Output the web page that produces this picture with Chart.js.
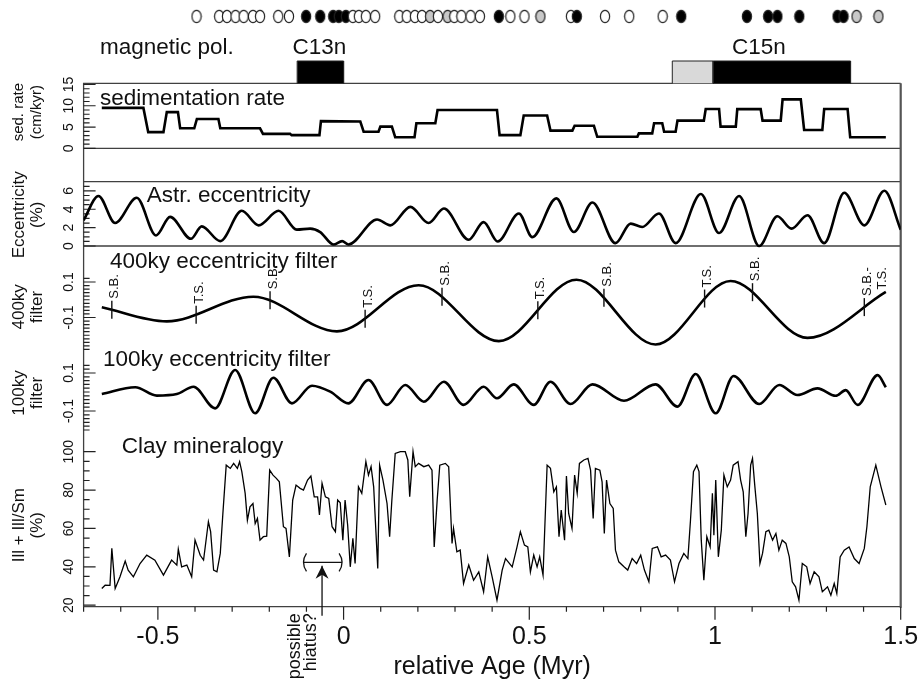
<!DOCTYPE html>
<html><head><meta charset="utf-8">
<script src="https://cdn.jsdelivr.net/npm/chart.js@4.4.1/dist/chart.umd.min.js"></script>
<style>html,body{margin:0;padding:0;background:#fff;}</style>
</head><body>
<canvas id="c" width="918" height="682" style="width:918px;height:682px;display:block"></canvas>
<script>
// ---------------- DATA ----------------
const xTicks = [-0.5, 0, 0.5, 1, 1.5];
const sedTicks = [0, 5, 10, 15];
const eccTicks = [0, 2, 4, 6];
const f400Ticks = [-0.1, 0.1];
const f100Ticks = [-0.1, 0.1];
const clayTicks = [20, 40, 60, 80, 100];

// paleomagnetic samples: o = open (reversed), b = black (normal), g = grey (uncertain)
const polAge = [-0.396,-0.335,-0.314,-0.291,-0.269,-0.244,-0.225,-0.176,-0.147,-0.101,-0.063,-0.028,-0.013,0.006,0.025,0.041,0.060,0.085,0.150,0.170,0.192,0.211,0.233,0.254,0.280,0.298,0.317,0.342,0.367,0.418,0.449,0.487,0.530,0.612,0.628,0.704,0.769,0.859,0.909,1.086,1.143,1.168,1.227,1.330,1.346,1.381,1.440];
const polType = ['o','o','o','o','o','o','o','o','o','b','b','b','b','b','o','o','o','o','o','o','o','o','g','o','g','o','o','o','o','b','o','o','g','o','b','o','o','o','b','b','b','b','b','b','b','g','g'];

// magnetic chrons
const chronStart = [-0.125, 0.885, 0.995];
const chronEnd   = [0.0, 0.995, 1.365];
const chronKind  = ['normal', 'uncertain', 'normal'];
const chronNames = ['C13n', 'C15n'];
const chronNameAge = [-0.065, 1.118];

// sedimentation rate (cm/kyr)
const sedAge  = [-0.651,-0.539,-0.526,-0.485,-0.476,-0.446,-0.440,-0.402,-0.395,-0.337,-0.332,-0.225,-0.217,-0.144,-0.140,-0.065,-0.061,0.045,0.054,0.094,0.099,0.130,0.139,0.191,0.196,0.247,0.253,0.413,0.420,0.476,0.485,0.548,0.557,0.616,0.622,0.674,0.683,0.791,0.795,0.831,0.836,0.858,0.863,0.894,0.899,0.970,0.975,1.011,1.015,1.056,1.060,1.123,1.128,1.177,1.182,1.231,1.240,1.289,1.294,1.357,1.364,1.460];
const sedRate = [9.5,9.5,3.8,3.8,8.5,8.5,4.7,4.7,6.9,6.9,4.7,4.7,3.4,3.4,3.1,3.1,6.4,6.3,3.9,3.9,5.1,5.1,2.6,2.6,5.9,5.9,9.0,9.0,3.1,3.1,7.7,7.7,4.15,4.15,5.3,5.3,2.7,2.7,3.5,3.5,5.9,5.9,3.9,3.9,6.5,6.5,9.25,9.25,5.1,5.1,9.2,9.2,6.5,6.5,11.5,11.5,4.3,4.3,9.25,9.25,2.6,2.6];

// astronomical eccentricity (%)
const eccAge = [-0.700,-0.660,-0.615,-0.557,-0.505,-0.467,-0.411,-0.382,-0.332,-0.274,-0.229,-0.175,-0.126,-0.090,-0.063,-0.027,-0.004,0.013,0.090,0.126,0.180,0.229,0.270,0.337,0.377,0.415,0.472,0.508,0.573,0.620,0.670,0.732,0.773,0.804,0.849,0.894,0.962,1.011,1.065,1.119,1.168,1.206,1.249,1.294,1.348,1.402,1.456,1.500];
const eccVal = [2.8,5.44,2.5,5.25,1.15,3.17,0.79,2.14,0.53,3.83,2.25,3.83,1.78,1.89,1.52,0.16,0.53,0.16,2.88,2.25,4.26,2.5,4.08,0.68,2.6,0.49,3.54,0.97,5.18,1.52,4.74,0.31,2.44,2.07,3.54,0.31,5.66,1.41,5.44,0.0,3.24,1.89,3.35,0.31,5.8,2.25,6.02,1.78];

// 400 ky eccentricity filter
const f400Age = [-0.651,-0.476,-0.243,-0.018,0.202,0.418,0.627,0.840,1.042,1.249,1.460];
const f400Val = [-0.042,-0.122,0.017,-0.178,0.082,-0.233,0.113,-0.252,0.106,-0.215,0.044];

// sequence markers on the 400 ky filter
const markerAge = [-0.624,-0.397,-0.198,0.058,0.265,0.523,0.701,0.972,1.101,1.402];
const markerLabel = ['S.B.','T.S.','S.B.','T.S.','S.B.','T.S.','S.B.','T.S.','S.B.','S.B.-\nT.S.'];

// 100 ky eccentricity filter
const f100Age = [-0.651,-0.561,-0.503,-0.449,-0.404,-0.346,-0.292,-0.238,-0.189,-0.139,-0.085,-0.036,0.013,0.067,0.117,0.166,0.216,0.270,0.323,0.377,0.413,0.458,0.512,0.557,0.611,0.670,0.755,0.840,0.899,0.948,1.002,1.050,1.119,1.173,1.222,1.276,1.325,1.352,1.384,1.438,1.460];
const f100Val = [-0.011,0.025,-0.019,-0.011,0.028,-0.086,0.116,-0.112,0.075,-0.06,0.033,0.002,-0.06,0.063,-0.068,0.037,-0.051,0.054,-0.068,0.028,-0.033,0.04,-0.068,0.054,-0.063,0.04,-0.046,0.04,-0.077,0.095,-0.112,0.084,-0.063,0.037,-0.016,0.019,-0.02,0.01,-0.068,0.089,0.025];

// clay mineralogy: Ill + Ill/Sm (%)
const clayAge = [-0.651,-0.642,-0.629,-0.624,-0.615,-0.602,-0.588,-0.580,-0.566,-0.548,-0.530,-0.508,-0.485,-0.463,-0.449,-0.445,-0.436,-0.422,-0.409,-0.400,-0.386,-0.377,-0.364,-0.358,-0.350,-0.341,-0.332,-0.325,-0.316,-0.305,-0.296,-0.286,-0.280,-0.274,-0.265,-0.259,-0.252,-0.244,-0.238,-0.232,-0.225,-0.216,-0.207,-0.199,-0.190,-0.181,-0.173,-0.162,-0.155,-0.146,-0.137,-0.128,-0.117,-0.108,-0.097,-0.088,-0.079,-0.070,-0.065,-0.058,-0.049,-0.040,-0.031,-0.022,-0.016,-0.009,-0.002,0.004,0.011,0.018,0.025,0.031,0.040,0.049,0.060,0.067,0.074,0.081,0.092,0.097,0.106,0.117,0.124,0.130,0.139,0.153,0.166,0.173,0.178,0.187,0.193,0.202,0.216,0.229,0.238,0.244,0.252,0.259,0.274,0.283,0.292,0.296,0.305,0.314,0.323,0.337,0.350,0.364,0.377,0.388,0.400,0.413,0.427,0.436,0.454,0.467,0.476,0.487,0.496,0.503,0.512,0.521,0.528,0.537,0.548,0.557,0.566,0.573,0.580,0.586,0.595,0.600,0.606,0.615,0.622,0.629,0.635,0.647,0.658,0.665,0.672,0.678,0.690,0.696,0.702,0.708,0.717,0.726,0.732,0.741,0.755,0.765,0.777,0.789,0.800,0.810,0.822,0.831,0.845,0.855,0.867,0.880,0.891,0.903,0.916,0.927,0.934,0.942,0.951,0.957,0.963,0.970,0.978,0.987,0.993,0.997,1.002,1.009,1.017,1.024,1.033,1.042,1.049,1.062,1.069,1.076,1.083,1.089,1.096,1.101,1.107,1.114,1.121,1.128,1.137,1.145,1.155,1.164,1.172,1.181,1.191,1.200,1.208,1.217,1.226,1.235,1.247,1.256,1.267,1.280,1.289,1.303,1.312,1.321,1.328,1.337,1.348,1.361,1.375,1.388,1.402,1.409,1.418,1.433,1.447,1.460];
const clayVal = [28.7,30.4,30.3,49.6,28.7,34.8,43,38.3,34.8,41.7,46.1,43.5,35.7,43.5,40.9,49.2,40,40.9,34.8,53.9,46,43.5,63.5,58.3,38.3,37.4,47,67.8,93,91.3,93.9,91.3,94.8,89.6,78.3,64.3,71.3,73,62.6,65.2,53.9,55.7,56,90.4,87.8,86.1,84.3,60.9,60,45.2,74.8,82.6,80.9,80,85.2,87.3,76.5,76.5,67,83.5,76.5,75.7,60.9,58.3,74.8,73.4,53.9,74.8,61.7,40,54.8,41.7,81.7,78.3,94.8,87.8,92.2,81.7,39.1,93,85.2,73,55.7,74.8,99.1,100,100,95.7,76.5,100,92.2,93.9,92.2,93,90.4,50.4,74.8,93,93.9,92.2,52.2,60,47.8,48.7,31.3,40.9,33,37.4,27,45.2,34.8,22.6,38.3,44.3,40,50.4,58.3,51.3,50.4,37.4,46.1,40,45.2,35.7,93,91.3,79.1,81.7,55.7,69.6,53.9,87.3,67.8,60,87.8,78.3,93.9,95.7,96.5,90.4,65.2,91.3,90.4,84.3,57.4,85.2,73,70.4,48.7,42.6,40,38.3,44.3,41.7,46.1,38.3,32.2,49.6,50.4,45.2,46.1,43.5,32.2,41.7,47,44.3,64.3,89.6,93,89.6,53.9,33,55.7,50.4,78.3,56.5,85.2,45.2,59.1,87.8,81.7,85.2,93,94.8,85.2,79.1,55.7,67.8,93,96.5,82.6,67.8,41.7,47,58.3,59.1,53.9,57.4,48.7,53.9,52.2,45.2,32.2,29.6,22.6,41.7,40,31.3,37.4,34.8,27,29.6,25.2,31.3,26.1,45.2,48.7,50.4,44.3,41.7,49.6,60.9,81.7,93,81.7,72.2];

// possible hiatus annotation
const hiatusRange = [-0.108, -0.004];
const hiatusArrowAge = -0.058;

// ---------------- LAYOUT / STYLE ----------------
const W = 918, H = 682;
const PLOT_BOTTOM = 606.7;
const FONT = '"Liberation Sans", Arial, Helvetica, sans-serif';
const INK = '#111';
const FRAME = '#404040';

function band(v0, p0, v1, p1) {
  const s = (p0 - p1) / (v1 - v0);
  const min = v0 - (PLOT_BOTTOM - p0) / s;
  return { min: min, max: min + PLOT_BOTTOM / s };
}
const R_TOP  = band(0, 83.3, 1, 61);
const R_SED  = band(0, 148.3, 15, 84.5);
const R_ECC  = band(0, 246, 7, 181.7);
const R_400  = band(-0.1, 317.5, 0.1, 282);
const R_100  = band(-0.1, 411, 0.1, 373);
const R_CLAY = band(20, 605.2, 100, 451.7);

function hiddenY(r) {
  return { type: 'linear', display: false, min: r.min, max: r.max, bounds: 'data', offset: false };
}
const pts = (xs, ys) => xs.map((x, i) => ({ x: x, y: ys[i] }));

function ellipseImg(fill) {
  const c = document.createElement('canvas');
  c.width = 12; c.height = 15;
  const g = c.getContext('2d');
  g.beginPath();
  g.ellipse(6, 7.5, 4.6, 6.1, 0, 0, Math.PI * 2);
  g.fillStyle = fill; g.fill();
  g.lineWidth = 1.2; g.strokeStyle = '#222'; g.stroke();
  return c;
}
const polImgs = { o: ellipseImg('#ffffff'), b: ellipseImg('#000000'), g: ellipseImg('#c8c8c8') };
const chronColor = { normal: '#000000', uncertain: '#d9d9d9' };

function vText(ctx, txt, x, y, align) {
  ctx.save();
  ctx.translate(x, y);
  ctx.rotate(-Math.PI / 2);
  ctx.textAlign = align;
  ctx.textBaseline = 'middle';
  ctx.fillText(txt, 0, 0);
  ctx.restore();
}

const yPanels = [
  { id: 'ySed',  from: 0,     to: 15,   step: 1,    major: sedTicks },
  { id: 'yEcc',  from: 0,     to: 6.5,  step: 0.5,  major: eccTicks },
  { id: 'y400',  from: -0.28, to: 0.12, step: 0.02, major: f400Ticks },
  { id: 'y100',  from: -0.2,  to: 0.14, step: 0.02, major: f100Ticks },
  { id: 'yClay', from: 20,    to: 100,  step: 5,    major: clayTicks }
];
const yTitles = [
  { id: 'ySed',  v: 8.5,   lines: ['sed. rate', '(cm/kyr)'], size: 15 },
  { id: 'yEcc',  v: 3.4,   lines: ['Eccentricity', '(%)'], size: 17 },
  { id: 'y400',  v: -0.04, lines: ['400ky', 'filter'], size: 17 },
  { id: 'y100',  v: -0.005, lines: ['100ky', 'filter'], size: 17 },
  { id: 'yClay', v: 61.7,  lines: ['Ill + Ill/Sm', '(%)'], size: 17 }
];
const panelTitles = [
  { id: 'ySed',  age: -0.656, v: 10.2,  text: 'sedimentation rate' },
  { id: 'yEcc',  age: -0.530, v: 4.74,  text: 'Astr. eccentricity' },
  { id: 'y400',  age: -0.629, v: 0.18,  text: '400ky eccentricity filter' },
  { id: 'y100',  age: -0.648, v: 0.137, text: '100ky eccentricity filter' },
  { id: 'yClay', age: -0.597, v: 99.4,  text: 'Clay mineralogy' }
];

const annot = {
  id: 'annot',
  beforeDatasetsDraw(chart) {
    const ctx = chart.ctx, X = chart.scales.x, S = chart.scales;
    const L = X.left, R = X.right, T = S.yTop.getPixelForValue(0), B = chart.chartArea.bottom;
    ctx.save();
    ctx.strokeStyle = FRAME; ctx.lineWidth = 1.3;
    ctx.beginPath();
    ctx.moveTo(R, T); ctx.lineTo(L, T); ctx.lineTo(L, B); ctx.lineTo(R, B);
    [S.ySed.getPixelForValue(0), S.yEcc.getPixelForValue(7), S.yEcc.getPixelForValue(0)].forEach(y => {
      ctx.moveTo(L, y); ctx.lineTo(R, y);
    });
    ctx.stroke();
    ctx.lineWidth = 2.2; ctx.strokeStyle = '#555';
    ctx.beginPath(); ctx.moveTo(R, T); ctx.lineTo(R, B + 1); ctx.stroke();
    // x ticks (outward)
    ctx.strokeStyle = '#222'; ctx.lineWidth = 1.2;
    ctx.beginPath();
    for (let i = -7; i <= 15; i++) {
      const x = X.getPixelForValue(i / 10);
      const len = (i % 5 === 0) ? 13 : 5;
      ctx.moveTo(x, B); ctx.lineTo(x, B + len);
    }
    ctx.stroke();
    // y ticks (inward) and rotated labels
    ctx.fillStyle = INK;
    ctx.font = '14px ' + FONT;
    yPanels.forEach(p => {
      const sc = S[p.id];
      ctx.beginPath();
      const n = Math.round((p.to - p.from) / p.step);
      for (let k = 0; k <= n; k++) {
        const v = p.from + k * p.step;
        const y = sc.getPixelForValue(v);
        const isMajor = p.major.some(m => Math.abs(m - v) < p.step / 10);
        ctx.moveTo(L, y); ctx.lineTo(L + (isMajor ? 12 : 6), y);
      }
      ctx.stroke();
      p.major.forEach(m => vText(ctx, String(m), 69, sc.getPixelForValue(m), 'center'));
    });
    ctx.restore();
  },
  afterDatasetsDraw(chart) {
    const ctx = chart.ctx, X = chart.scales.x, S = chart.scales;
    ctx.save();
    ctx.fillStyle = INK; ctx.strokeStyle = INK;
    // axis titles (rotated, two lines)
    yTitles.forEach(t => {
      ctx.font = t.size + 'px ' + FONT;
      const y = S[t.id].getPixelForValue(t.v);
      vText(ctx, t.lines[0], 19, y, 'center');
      vText(ctx, t.lines[1], 37, y, 'center');
    });
    // panel titles
    ctx.font = '22.5px ' + FONT;
    ctx.textAlign = 'left'; ctx.textBaseline = 'alphabetic';
    panelTitles.forEach(t => ctx.fillText(t.text, X.getPixelForValue(t.age), S[t.id].getPixelForValue(t.v)));
    // magnetic polarity labels
    const yLab = S.yTop.getPixelForValue(1.31);
    ctx.fillText('magnetic pol.', X.getPixelForValue(-0.656), yLab);
    ctx.textAlign = 'center';
    chronNames.forEach((n, i) => ctx.fillText(n, X.getPixelForValue(chronNameAge[i]), yLab));
    // S.B. / T.S. markers on the 400ky filter
    const meta = chart.getDatasetMeta(2);
    ctx.lineWidth = 1.4;
    ctx.font = '13px ' + FONT;
    markerAge.forEach((a, i) => {
      const x = X.getPixelForValue(a);
      let y;
      const ip = meta.dataset && meta.dataset.interpolate ? meta.dataset.interpolate({ x: x }, 'x') : null;
      if (ip && !Array.isArray(ip)) y = ip.y;
      else {
        let j = 0; while (j < f400Age.length - 2 && f400Age[j + 1] < a) j++;
        const t = (a - f400Age[j]) / (f400Age[j + 1] - f400Age[j]);
        y = S.y400.getPixelForValue(f400Val[j] + t * (f400Val[j + 1] - f400Val[j]));
      }
      const half = 9;
      ctx.beginPath(); ctx.moveTo(x, y - half); ctx.lineTo(x, y + half); ctx.stroke();
      const lines = markerLabel[i].split('\n');
      const start = y - half - 2;
      vText(ctx, lines[0], x + 3, start, 'left');
      if (lines.length > 1) {
        const endY = start - ctx.measureText(lines[0]).width;
        vText(ctx, lines[1], x + 18, endY, 'right');
      }
    });
    // possible hiatus bracket + arrow
    const xa = X.getPixelForValue(hiatusRange[0]), xb = X.getPixelForValue(hiatusRange[1]);
    const yb = S.yClay.getPixelForValue(42.3);
    ctx.lineWidth = 1.3;
    ctx.beginPath();
    ctx.moveTo(xa, yb); ctx.lineTo(xb, yb);
    ctx.moveTo(xa + 3, yb - 9); ctx.quadraticCurveTo(xa - 3, yb, xa + 3, yb + 9);
    ctx.moveTo(xb - 3, yb - 9); ctx.quadraticCurveTo(xb + 3, yb, xb - 3, yb + 9);
    const xr = X.getPixelForValue(hiatusArrowAge);
    const yTip = S.yClay.getPixelForValue(40.5), yTail = S.yClay.getPixelForValue(14.5);
    ctx.moveTo(xr, yTip); ctx.lineTo(xr, yTail);
    ctx.stroke();
    ctx.beginPath();
    ctx.moveTo(xr, yTip); ctx.lineTo(xr - 6.5, yTip + 13); ctx.lineTo(xr, yTip + 9); ctx.lineTo(xr + 6.5, yTip + 13);
    ctx.closePath(); ctx.fill();
    ctx.font = '18px ' + FONT;
    const yTxt = S.yClay.getPixelForValue(15.8);
    vText(ctx, 'possible', X.getPixelForValue(-0.130), yTxt, 'right');
    vText(ctx, 'hiatus?', X.getPixelForValue(-0.087), yTxt, 'right');
    ctx.restore();
  }
};

// chron rectangles as filled line outlines on the top axis
const chronSets = chronStart.map((s, i) => ({
  label: 'chron ' + i,
  data: [{ x: s, y: 0 }, { x: s, y: 1 }, { x: chronEnd[i], y: 1 }, { x: chronEnd[i], y: 0 }],
  yAxisID: 'yTop', borderColor: '#222', borderWidth: 1, pointRadius: 0, tension: 0,
  backgroundColor: chronColor[chronKind[i]], fill: { value: 0 }
}));

new Chart(document.getElementById('c'), {
  type: 'line',
  data: {
    datasets: [
      { label: 'sedimentation rate', data: pts(sedAge, sedRate), yAxisID: 'ySed',
        borderColor: '#000', borderWidth: 2.6, pointRadius: 0, tension: 0, fill: false },
      { label: 'Astr. eccentricity', data: pts(eccAge, eccVal), yAxisID: 'yEcc',
        borderColor: '#000', borderWidth: 2.6, pointRadius: 0, cubicInterpolationMode: 'monotone', fill: false },
      { label: '400ky eccentricity filter', data: pts(f400Age, f400Val), yAxisID: 'y400',
        borderColor: '#000', borderWidth: 2.6, pointRadius: 0, cubicInterpolationMode: 'monotone', fill: false },
      { label: '100ky eccentricity filter', data: pts(f100Age, f100Val), yAxisID: 'y100',
        borderColor: '#000', borderWidth: 2.6, pointRadius: 0, cubicInterpolationMode: 'monotone', fill: false },
      { label: 'Clay mineralogy', data: pts(clayAge, clayVal), yAxisID: 'yClay',
        borderColor: '#000', borderWidth: 1.3, pointRadius: 0, tension: 0, fill: false },
      { label: 'paleomag samples', data: polAge.map(a => ({ x: a, y: 3 })), yAxisID: 'yTop',
        showLine: false, pointStyle: polType.map(t => polImgs[t]), pointRadius: 6, fill: false }
    ].concat(chronSets)
  },
  options: {
    responsive: false,
    animation: false,
    devicePixelRatio: 1,
    layout: { autoPadding: false, padding: { left: 83.6, right: 17.3, top: 0, bottom: 0 } },
    plugins: { legend: { display: false }, tooltip: { enabled: false }, title: { display: false } },
    scales: {
      x: {
        type: 'linear', position: 'bottom', min: -0.7, max: 1.5, bounds: 'data',
        grid: { display: false, drawTicks: false }, border: { display: false },
        afterBuildTicks: s => { s.ticks = xTicks.map(v => ({ value: v })); },
        afterFit: s => { s.height = H - PLOT_BOTTOM; s.paddingLeft = 0; s.paddingRight = 0; },
        ticks: { padding: 15, color: INK, font: { family: FONT, size: 25 }, maxRotation: 0, autoSkip: false,
                 callback: v => String(v) },
        title: { display: true, text: 'relative Age (Myr)', color: INK, font: { family: FONT, size: 25 },
                 padding: { top: 0, bottom: 0 } }
      },
      yTop: hiddenY(R_TOP),
      ySed: hiddenY(R_SED),
      yEcc: hiddenY(R_ECC),
      y400: hiddenY(R_400),
      y100: hiddenY(R_100),
      yClay: hiddenY(R_CLAY)
    }
  },
  plugins: [annot]
});
</script>
</body></html>
